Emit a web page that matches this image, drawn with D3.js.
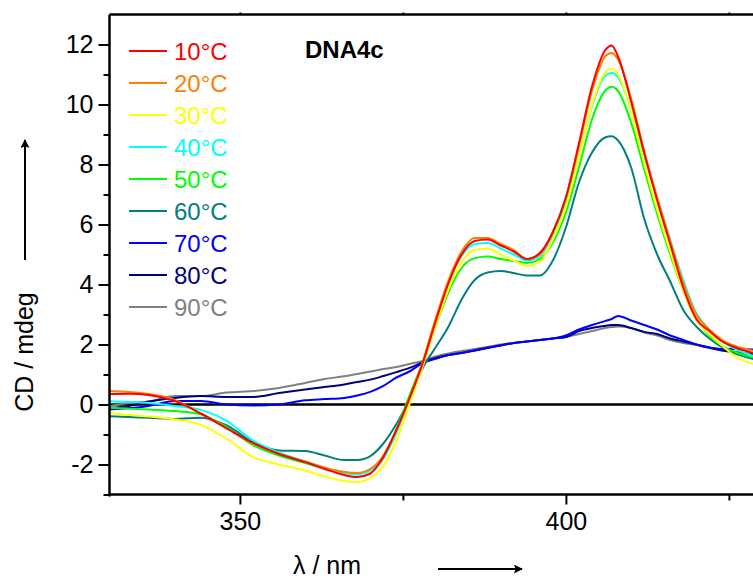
<!DOCTYPE html>
<html>
<head>
<meta charset="utf-8">
<script src="https://cdn.jsdelivr.net/npm/d3@7"></script>
<style>
  body { margin: 0; background: #fff; }
  text { font-family: "Liberation Sans", Arial, sans-serif; }
</style>
</head>
<body>
<div id="chart"></div>
<script>
// longitudes de onda (nm)
var wavelengths = [330, 333, 336, 340, 344, 348, 352, 356, 360, 363, 366, 368, 370, 372, 374, 376, 378, 380, 382, 384, 386, 388, 390, 392, 394, 396, 398, 400, 402, 404, 406, 407, 408, 410, 412, 414, 416, 418, 420, 422, 424, 426, 429];

// CD (mdeg) por temperatura
var cd10 = [0.35, 0.36, 0.32, 0.12, -0.3, -0.8, -1.28, -1.65, -1.92, -2.15, -2.35, -2.42, -2.3, -1.75, -0.85, 0.2, 1.35, 2.75, 4.05, 5.0, 5.45, 5.5, 5.3, 5.1, 4.85, 5.05, 5.75, 6.9, 8.7, 10.6, 11.8, 11.97, 11.6, 10.1, 8.4, 6.8, 5.35, 3.9, 2.85, 2.45, 2.1, 1.9, 1.7];
var cd20 = [0.45, 0.42, 0.35, 0.15, -0.3, -0.8, -1.3, -1.65, -1.9, -2.1, -2.25, -2.28, -2.15, -1.7, -0.85, 0.2, 1.4, 2.85, 4.15, 5.1, 5.55, 5.55, 5.35, 5.15, 4.85, 5.0, 5.75, 6.9, 8.6, 10.45, 11.6, 11.72, 11.5, 10.2, 8.45, 6.9, 5.45, 4.05, 3.0, 2.5, 2.15, 1.95, 1.78];
var cd30 = [-0.28, -0.35, -0.4, -0.5, -0.68, -1.15, -1.75, -2.0, -2.2, -2.4, -2.55, -2.58, -2.45, -2.05, -1.2, 0.0, 1.25, 2.6, 3.85, 4.75, 5.15, 5.2, 5.0, 4.8, 4.62, 4.75, 5.5, 6.6, 8.25, 10.0, 11.05, 11.19, 11.0, 9.8, 8.05, 6.5, 5.1, 3.8, 2.8, 2.35, 1.95, 1.6, 1.33];
var cd40 = [0.11, 0.08, 0.05, -0.05, -0.18, -0.55, -1.2, -1.6, -1.9, -2.1, -2.28, -2.33, -2.2, -1.8, -0.95, 0.15, 1.35, 2.7, 4.05, 4.95, 5.35, 5.38, 5.2, 5.0, 4.8, 4.95, 5.65, 6.75, 8.3, 9.95, 10.95, 11.06, 10.9, 9.85, 8.3, 6.9, 5.5, 4.15, 3.05, 2.5, 2.1, 1.85, 1.6];
var cd50 = [-0.11, -0.14, -0.17, -0.22, -0.33, -0.75, -1.35, -1.7, -1.95, -2.12, -2.25, -2.3, -2.15, -1.8, -0.82, 0.3, 1.4, 2.6, 3.75, 4.55, 4.88, 4.93, 4.85, 4.78, 4.72, 4.85, 5.4, 6.4, 7.9, 9.5, 10.45, 10.59, 10.45, 9.4, 7.85, 6.35, 5.0, 3.8, 2.85, 2.3, 1.95, 1.75, 1.56];
var cd60 = [-0.39, -0.42, -0.44, -0.48, -0.44, -0.7, -1.25, -1.53, -1.55, -1.7, -1.85, -1.85, -1.72, -1.3, -0.65, 0.15, 1.2, 1.9, 2.6, 3.5, 4.15, 4.4, 4.45, 4.38, 4.3, 4.3, 4.8, 5.9, 7.4, 8.4, 8.9, 8.94, 8.8, 7.9, 6.2, 5.0, 4.1, 3.15, 2.6, 2.2, 1.9, 1.7, 1.5];
var cd70 = [-0.17, -0.12, -0.05, 0.12, 0.12, 0.0, -0.03, 0.0, 0.14, 0.18, 0.22, 0.3, 0.42, 0.62, 0.9, 1.1, 1.38, 1.52, 1.65, 1.72, 1.8, 1.9, 1.97, 2.05, 2.1, 2.15, 2.2, 2.3, 2.5, 2.65, 2.78, 2.85, 2.95, 2.8, 2.65, 2.5, 2.3, 2.15, 2.0, 1.9, 1.85, 1.85, 1.83];
var cd80 = [-0.12, -0.05, 0.1, 0.22, 0.28, 0.25, 0.25, 0.38, 0.5, 0.58, 0.67, 0.75, 0.83, 0.95, 1.08, 1.22, 1.4, 1.55, 1.65, 1.72, 1.8, 1.88, 1.97, 2.05, 2.1, 2.15, 2.2, 2.25, 2.45, 2.55, 2.62, 2.65, 2.65, 2.55, 2.42, 2.35, 2.2, 2.1, 2.0, 1.9, 1.8, 1.75, 1.67];
var cd90 = [-0.05, 0.05, 0.1, 0.28, 0.28, 0.4, 0.45, 0.55, 0.72, 0.85, 0.94, 1.02, 1.1, 1.18, 1.25, 1.35, 1.45, 1.6, 1.7, 1.78, 1.85, 1.92, 2.0, 2.05, 2.1, 2.15, 2.2, 2.25, 2.35, 2.45, 2.55, 2.58, 2.6, 2.55, 2.4, 2.3, 2.15, 2.05, 1.98, 1.88, 1.8, 1.72, 1.65];

var labels = ["10°C", "20°C", "30°C", "40°C", "50°C", "60°C", "70°C", "80°C", "90°C"];
var colors = ["#ff0000", "#ff8000", "#ffff00", "#00ffff", "#00ff00", "#008080", "#0000ff", "#000080", "#808080"];
var seriesData = [cd10, cd20, cd30, cd40, cd50, cd60, cd70, cd80, cd90];

var yMajor = [-2, 0, 2, 4, 6, 8, 10, 12];
var yMinor = [-3, -1, 1, 3, 5, 7, 9, 11];
var xMajor = [350, 400];
var xMinor = [375, 425];

// dimensiones
var W = 753, H = 581;
var margin = {top: 14.5, left: 109.5};
var plotW = 652, plotH = 480;

var svg = d3.select("#chart").append("svg")
  .attr("width", W)
  .attr("height", H);

var x = d3.scaleLinear().domain([330, 430]).range([margin.left, margin.left + plotW]);
var y = d3.scaleLinear().domain([-3, 13]).range([margin.top + plotH, margin.top]);

var defs = svg.append("defs");
defs.append("clipPath").attr("id", "clip")
  .append("rect")
  .attr("x", margin.left).attr("y", margin.top)
  .attr("width", plotW).attr("height", plotH);

// linea del cero
svg.append("line")
  .attr("x1", margin.left).attr("x2", margin.left + plotW)
  .attr("y1", y(0)).attr("y2", y(0))
  .attr("stroke", "#000").attr("stroke-width", 2.5);

// curvas
var line = d3.line()
  .x(function(d, i) { return x(wavelengths[i]); })
  .y(function(d) { return y(d); })
  .curve(d3.curveMonotoneX);

var curves = svg.append("g").attr("clip-path", "url(#clip)");
for (var i = seriesData.length - 1; i >= 0; i--) {
  curves.append("path")
    .datum(seriesData[i])
    .attr("fill", "none")
    .attr("stroke", colors[i])
    .attr("stroke-width", 2)
    .attr("stroke-linejoin", "round")
    .attr("d", line);
}

// ejes
function styleAxis(g) {
  g.select(".domain").remove();
  g.selectAll("line").attr("stroke", "#000").attr("stroke-width", 2);
  g.selectAll("text").attr("fill", "#000")
    .style("font-family", "'Liberation Sans', Arial, sans-serif")
    .style("font-size", "25px");
}

var yAx = svg.append("g")
  .attr("transform", "translate(" + margin.left + ",0)")
  .call(d3.axisLeft(y).tickValues(yMajor).tickSize(11).tickPadding(5).tickFormat(d3.format("d")));
styleAxis(yAx);
yAx.selectAll("text").text(function(d) { return d < 0 ? "-" + Math.abs(d) : d; });
var yAxMin = svg.append("g")
  .attr("transform", "translate(" + margin.left + ",0)")
  .call(d3.axisLeft(y).tickValues(yMinor).tickSize(6).tickFormat(""));
styleAxis(yAxMin);

var xAx = svg.append("g")
  .attr("transform", "translate(0," + (margin.top + plotH) + ")")
  .call(d3.axisBottom(x).tickValues(xMajor).tickSize(10).tickPadding(8));
styleAxis(xAx);
var xAxMin = svg.append("g")
  .attr("transform", "translate(0," + (margin.top + plotH) + ")")
  .call(d3.axisBottom(x).tickValues(xMinor).tickSize(6).tickFormat(""));
styleAxis(xAxMin);

var xTop = svg.append("g")
  .attr("transform", "translate(0," + margin.top + ")")
  .call(d3.axisTop(x).tickValues([350, 375, 400, 425]).tickSize(2).tickFormat(""));
styleAxis(xTop);

// marco
svg.append("line")
  .attr("x1", margin.left).attr("x2", margin.left)
  .attr("y1", margin.top).attr("y2", margin.top + plotH + 2)
  .attr("stroke", "#000").attr("stroke-width", 2.5);
svg.append("line")
  .attr("x1", margin.left).attr("x2", margin.left + plotW)
  .attr("y1", margin.top + plotH).attr("y2", margin.top + plotH)
  .attr("stroke", "#000").attr("stroke-width", 2.5);
svg.append("line")
  .attr("x1", margin.left).attr("x2", margin.left + plotW)
  .attr("y1", margin.top).attr("y2", margin.top)
  .attr("stroke", "#000").attr("stroke-width", 2.5);

// leyenda
var legend = svg.append("g");
labels.forEach(function(lab, i) {
  var ly = 51 + i * 32;
  legend.append("line")
    .attr("x1", 129).attr("x2", 167)
    .attr("y1", ly).attr("y2", ly)
    .attr("stroke", colors[i]).attr("stroke-width", 2);
  legend.append("text")
    .attr("x", 174).attr("y", ly + 8.5)
    .attr("fill", colors[i])
    .style("font-size", "24px")
    .text(lab);
});

svg.append("text")
  .attr("x", 305).attr("y", 58)
  .style("font-size", "24px").style("font-weight", "bold")
  .text("DNA4c");

// titulos de ejes
svg.append("text")
  .attr("transform", "translate(33,352) rotate(-90)")
  .style("text-anchor", "middle")
  .style("font-size", "25px")
  .text("CD / mdeg");

svg.append("text")
  .attr("x", 327).attr("y", 574)
  .style("text-anchor", "middle")
  .style("font-size", "25px")
  .text("λ / nm");

// flechas
defs.append("marker").attr("id", "arrow")
  .attr("viewBox", "0 0 10 10").attr("refX", 9).attr("refY", 5)
  .attr("markerWidth", 10).attr("markerHeight", 9)
  .attr("markerUnits", "userSpaceOnUse")
  .attr("orient", "auto")
  .append("path").attr("d", "M0,0 L10,5 L0,10 L2,5 z").attr("fill", "#000");

svg.append("line")
  .attr("x1", 25).attr("x2", 25).attr("y1", 260).attr("y2", 140)
  .attr("stroke", "#000").attr("stroke-width", 2)
  .attr("marker-end", "url(#arrow)");

svg.append("line")
  .attr("x1", 438).attr("x2", 522).attr("y1", 569).attr("y2", 569)
  .attr("stroke", "#000").attr("stroke-width", 2)
  .attr("marker-end", "url(#arrow)");
</script>
</body>
</html>
